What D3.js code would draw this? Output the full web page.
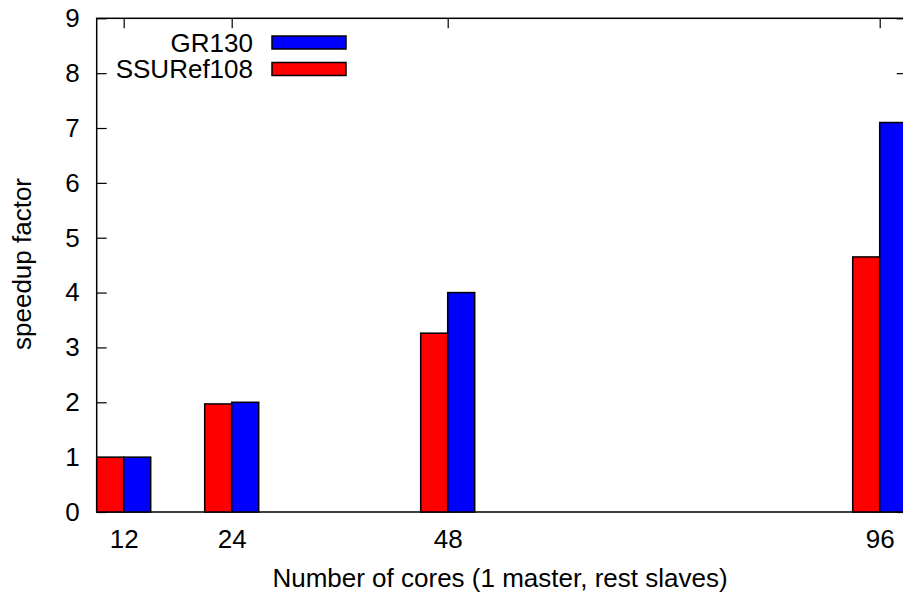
<!DOCTYPE html>
<html>
<head>
<meta charset="utf-8">
<script src="https://cdn.jsdelivr.net/npm/d3@7"></script>
<style>
  html, body { margin: 0; padding: 0; background: #fff; }
  svg { display: block; }
  text { font-family: "Liberation Sans", Arial, Helvetica, sans-serif; fill: #000; }
</style>
</head>
<body>
<svg id="chart" width="903" height="593"></svg>
<script>
const cores = [12, 24, 48, 96];
const ssuref108 = [1.0, 1.97, 3.26, 4.65];
const gr130 = [1.0, 2.0, 4.0, 7.1];
const yTicks = [0, 1, 2, 3, 4, 5, 6, 7, 8, 9];
const seriesNames = ["GR130", "SSURef108"];
const seriesColors = ["#0000ff", "#ff0000"];
const xLabel = "Number of cores (1 master, rest slaves)";
const yLabel = "speedup factor";

(function () {
const pLeft = 96.7, pRight = 906.7, pTop = 18.3, pBottom = 512;
const fontSize = 26;
const barW = 3;

const svg = d3.select("#chart");
const x = d3.scaleLinear().domain([9, 99]).range([pLeft, pRight]);
const y = d3.scaleLinear().domain([0, 9]).range([pBottom, pTop]);

const axisG = svg.append("g");

const gl = axisG.append("g").attr("transform", `translate(${pLeft},0)`)
  .call(d3.axisLeft(y).tickValues(yTicks).tickSize(-10).tickPadding(17).tickFormat(d3.format("d")));
const gr = axisG.append("g").attr("transform", `translate(${pRight},0)`)
  .call(d3.axisRight(y).tickValues(yTicks).tickSize(-10).tickFormat(""));
const gb = axisG.append("g").attr("transform", `translate(0,${pBottom})`)
  .call(d3.axisBottom(x).tickValues(cores).tickSize(-10).tickPadding(18).tickFormat(d3.format("d")));
const gt = axisG.append("g").attr("transform", `translate(0,${pTop})`)
  .call(d3.axisTop(x).tickValues(cores).tickSize(-10).tickFormat(""));

[gl, gr, gb, gt].forEach(g => {
  g.select(".domain").remove();
  g.selectAll(".tick line").attr("stroke", "#000").attr("stroke-width", 1.2);
  g.selectAll(".tick text").style("font-size", fontSize + "px");
});
axisG.selectAll("g").attr("font-family", null).attr("font-size", null);

axisG.append("rect")
  .attr("x", pLeft).attr("y", pTop)
  .attr("width", pRight - pLeft).attr("height", pBottom - pTop)
  .attr("fill", "none").attr("stroke", "#000").attr("stroke-width", 1.5);

const barsG = svg.append("g");
const series = [
  { values: ssuref108, color: seriesColors[1], offset: -barW },
  { values: gr130, color: seriesColors[0], offset: 0 }
];
series.forEach(s => {
  barsG.selectAll(null).data(cores.map((c, i) => ({ c, v: s.values[i] })))
    .enter().append("rect")
    .attr("x", d => x(d.c + s.offset))
    .attr("width", d => x(d.c + s.offset + barW) - x(d.c + s.offset))
    .attr("y", d => y(d.v))
    .attr("height", d => y(0) - y(d.v))
    .attr("fill", s.color)
    .attr("stroke", "#000")
    .attr("stroke-width", 1.5);
});

const legend = svg.append("g");
const legendY = [42.5, 69];
seriesNames.forEach((name, i) => {
  legend.append("text")
    .attr("x", 253).attr("y", legendY[i])
    .attr("dy", "0.35em")
    .attr("text-anchor", "end")
    .style("font-size", fontSize + "px")
    .text(name);
  legend.append("rect")
    .attr("x", 272).attr("y", legendY[i] - 6.5)
    .attr("width", 74).attr("height", 13)
    .attr("fill", seriesColors[i])
    .attr("stroke", "#000").attr("stroke-width", 1.5);
});

svg.append("text")
  .attr("x", 500).attr("y", 578)
  .attr("dy", "0.35em")
  .attr("text-anchor", "middle")
  .style("font-size", fontSize + "px")
  .text(xLabel);
svg.append("text")
  .attr("transform", `translate(22,264) rotate(-90)`)
  .attr("dy", "0.35em")
  .attr("text-anchor", "middle")
  .style("font-size", fontSize + "px")
  .text(yLabel);
})();
</script>
</body>
</html>
